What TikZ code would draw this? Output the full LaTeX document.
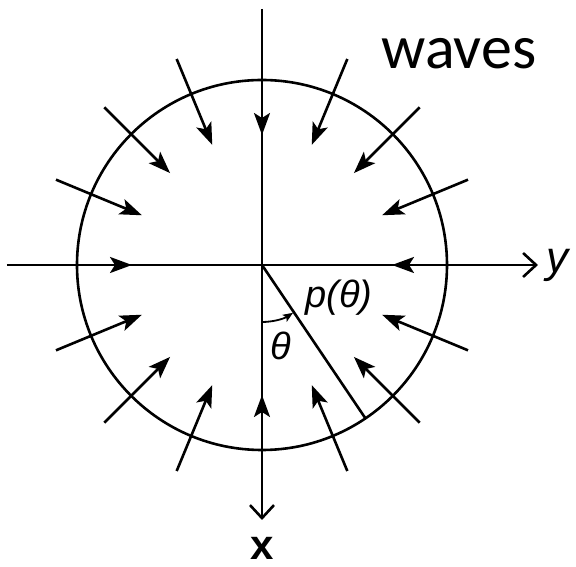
\documentclass[tikz,border=0pt]{standalone}
\usepackage{fontspec}
\setmainfont{Liberation Sans}
\newfontfamily\calfont{Carlito}
\usetikzlibrary{arrows.meta}
\tikzset{
  wave/.style={line width=2.6pt,-{Stealth[length=22pt,width=16pt,inset=5pt]}},
  axis/.style={line width=2.6pt,-{Straight Barb[length=13pt,width=24pt,line width=2.6pt]}},
  lbl/.style={font=\fontsize{38}{38}\selectfont\itshape}
}
\begin{document}
\begin{tikzpicture}[x=1pt,y=1pt]
\useasboundingbox (-262,-302) rectangle (314,265);
\coordinate (O) at (0,0);
\draw[line width=2.6pt] (O) circle (185);
% axes
\coordinate (top) at (90:256);
\coordinate (bot) at (-90:255);
\coordinate (left) at (180:255);
\coordinate (right) at (0:276);
\draw[axis] (top) -- (bot);
\draw[axis] (left) -- (right);
% incoming waves
\foreach \a [count=\i] in {0,22.5,...,337.5}{
  \coordinate (ws\i) at (\a:223);
  \coordinate (we\i) at (\a:130);
  \draw[wave] (ws\i) -- (we\i);
}
% radius and angle
\coordinate (P) at (-56:185);
\draw[line width=2.6pt] (O) -- (P);
\coordinate (a1) at (-90:57);
\draw[line width=1.8pt,-{Stealth[length=10pt,width=8pt,inset=2pt]}] (a1) arc (-90:-57:57);
\node[lbl] (plab) at (77,-33) {p(θ)};
\node[lbl] (tlab) at (19,-81) {θ};
\node[lbl,font=\fontsize{44}{44}\selectfont\itshape,anchor=base west] (ylab) at (281,-8) {y};
\node[font=\bfseries\fontsize{42}{42}\selectfont,inner sep=0pt] (xlab) at (0,-283) {x};
\node[font=\calfont\fontsize{62}{62}\selectfont] (waves) at (197,211) {waves};
\end{tikzpicture}
\end{document}
